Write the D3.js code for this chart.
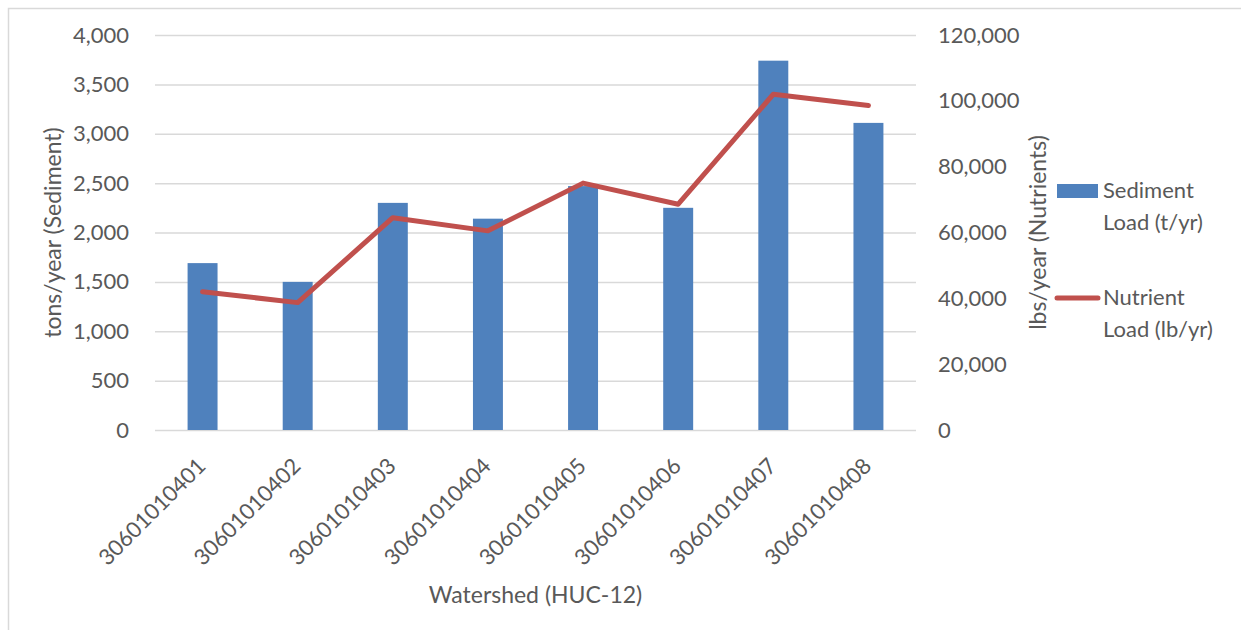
<!DOCTYPE html>
<html>
<head>
<meta charset="utf-8">
<script src="https://cdn.jsdelivr.net/npm/d3@7"></script>
<style>
  html, body { margin: 0; padding: 0; background: #ffffff; }
  svg { display: block; }
  text { font-family: Lato, "Open Sans", sans-serif; fill: #595959; }
</style>
</head>
<body>
<svg id="chart" width="1241" height="630"></svg>
<script>
// Watershed IDs (HUC-12)
const watersheds = ["30601010401", "30601010402", "30601010403", "30601010404",
                    "30601010405", "30601010406", "30601010407", "30601010408"];
// Sediment load, tons/year
const sedimentLoad = [1690, 1500, 2300, 2140, 2470, 2250, 3740, 3110];
// Nutrient load, lbs/year
const nutrientLoad = [42000, 38700, 64500, 60500, 75000, 68600, 102000, 98600];
// Axis ticks
const leftTicks = [0, 500, 1000, 1500, 2000, 2500, 3000, 3500, 4000];
const rightTicks = [0, 20000, 40000, 60000, 80000, 100000, 120000];
const legendLabels = [["Sediment", "Load (t/yr)"], ["Nutrient", "Load (lb/yr)"]];

const svg = d3.select("#chart");
const plot = { left: 155, right: 916, top: 35, bottom: 430 };
const barColor = "#4F81BD", lineColor = "#C0504D", gridColor = "#D9D9D9";
const fmt = d3.format(",");
const fontSize = "22px";
const titleSize = "23px";

// Chart frame
svg.append("rect")
  .attr("x", 8.5).attr("y", 8.5).attr("width", 1260).attr("height", 660)
  .attr("fill", "none").attr("stroke", gridColor).attr("stroke-width", 1.5);

const x = d3.scaleBand().domain(watersheds).range([plot.left, plot.right])
  .paddingInner(0.685).paddingOuter(0.3425);
const yL = d3.scaleLinear().domain([0, 4000]).range([plot.bottom, plot.top]);
const yR = d3.scaleLinear().domain([0, 120000]).range([plot.bottom, plot.top]);

// Horizontal gridlines
svg.append("g")
  .attr("transform", `translate(${plot.left},0)`)
  .call(d3.axisLeft(yL).tickValues(leftTicks).tickSize(-(plot.right - plot.left)).tickFormat(""))
  .call(g => g.select(".domain").remove())
  .call(g => g.selectAll("line").attr("stroke", gridColor).attr("stroke-width", 1.5));

// Left axis labels
svg.append("g")
  .attr("transform", `translate(${plot.left},0)`)
  .call(d3.axisLeft(yL).tickValues(leftTicks).tickSize(0).tickPadding(26).tickFormat(fmt))
  .call(g => g.select(".domain").remove())
  .call(g => g.selectAll("text").style("font-size", fontSize).attr("fill", "#595959"));

// Right axis labels
svg.append("g")
  .attr("transform", `translate(${plot.right},0)`)
  .call(d3.axisRight(yR).tickValues(rightTicks).tickSize(0).tickPadding(22).tickFormat(fmt))
  .call(g => g.select(".domain").remove())
  .call(g => g.selectAll("text").style("font-size", fontSize).attr("fill", "#595959"));

// Bars
svg.append("g").selectAll("rect")
  .data(watersheds)
  .join("rect")
  .attr("x", d => x(d))
  .attr("width", x.bandwidth())
  .attr("y", (d, i) => yL(sedimentLoad[i]))
  .attr("height", (d, i) => yL(0) - yL(sedimentLoad[i]))
  .attr("fill", barColor);

// Nutrient line
const line = d3.line()
  .x((d, i) => x(watersheds[i]) + x.bandwidth() / 2)
  .y(d => yR(d));
svg.append("path")
  .datum(nutrientLoad)
  .attr("d", line)
  .attr("fill", "none")
  .attr("stroke", lineColor)
  .attr("stroke-width", 5)
  .attr("stroke-linejoin", "round")
  .attr("stroke-linecap", "round");

// Category axis labels (rotated)
svg.append("g")
  .attr("transform", `translate(0,${plot.bottom})`)
  .call(d3.axisBottom(x).tickSize(0).tickPadding(0))
  .call(g => g.select(".domain").remove())
  .call(g => g.selectAll("text")
    .style("font-size", fontSize)
    .attr("fill", "#595959")
    .attr("text-anchor", "end")
    .attr("dy", "0.35em")
    .attr("transform", "translate(-1,32) rotate(-45)"));

// Axis titles
svg.append("text")
  .attr("transform", `translate(61,${(plot.top + plot.bottom) / 2}) rotate(-90)`)
  .attr("text-anchor", "middle")
  .style("font-size", titleSize)
  .text("tons/year (Sediment)");

svg.append("text")
  .attr("transform", `translate(1046,${(plot.top + plot.bottom) / 2}) rotate(-90)`)
  .attr("text-anchor", "middle")
  .style("font-size", titleSize)
  .text("lbs/year (Nutrients)");

svg.append("text")
  .attr("x", (plot.left + plot.right) / 2)
  .attr("y", 603)
  .attr("text-anchor", "middle")
  .style("font-size", titleSize)
  .text("Watershed (HUC-12)");

// Legend
const legend = svg.append("g");
const legendRows = [184, 291];
legend.append("rect")
  .attr("x", 1057).attr("y", legendRows[0]).attr("width", 41).attr("height", 14)
  .attr("fill", barColor);
legend.append("line")
  .attr("x1", 1057).attr("x2", 1098).attr("y1", legendRows[1] + 7).attr("y2", legendRows[1] + 7)
  .attr("stroke", lineColor).attr("stroke-width", 5).attr("stroke-linecap", "round");
legendLabels.forEach((lines, i) => {
  const t = legend.append("text")
    .attr("x", 1103).attr("y", legendRows[i] + 14)
    .style("font-size", fontSize);
  lines.forEach((s, j) => {
    t.append("tspan").attr("x", 1103).attr("dy", j === 0 ? 0 : 32).text(s);
  });
});
</script>
</body>
</html>
